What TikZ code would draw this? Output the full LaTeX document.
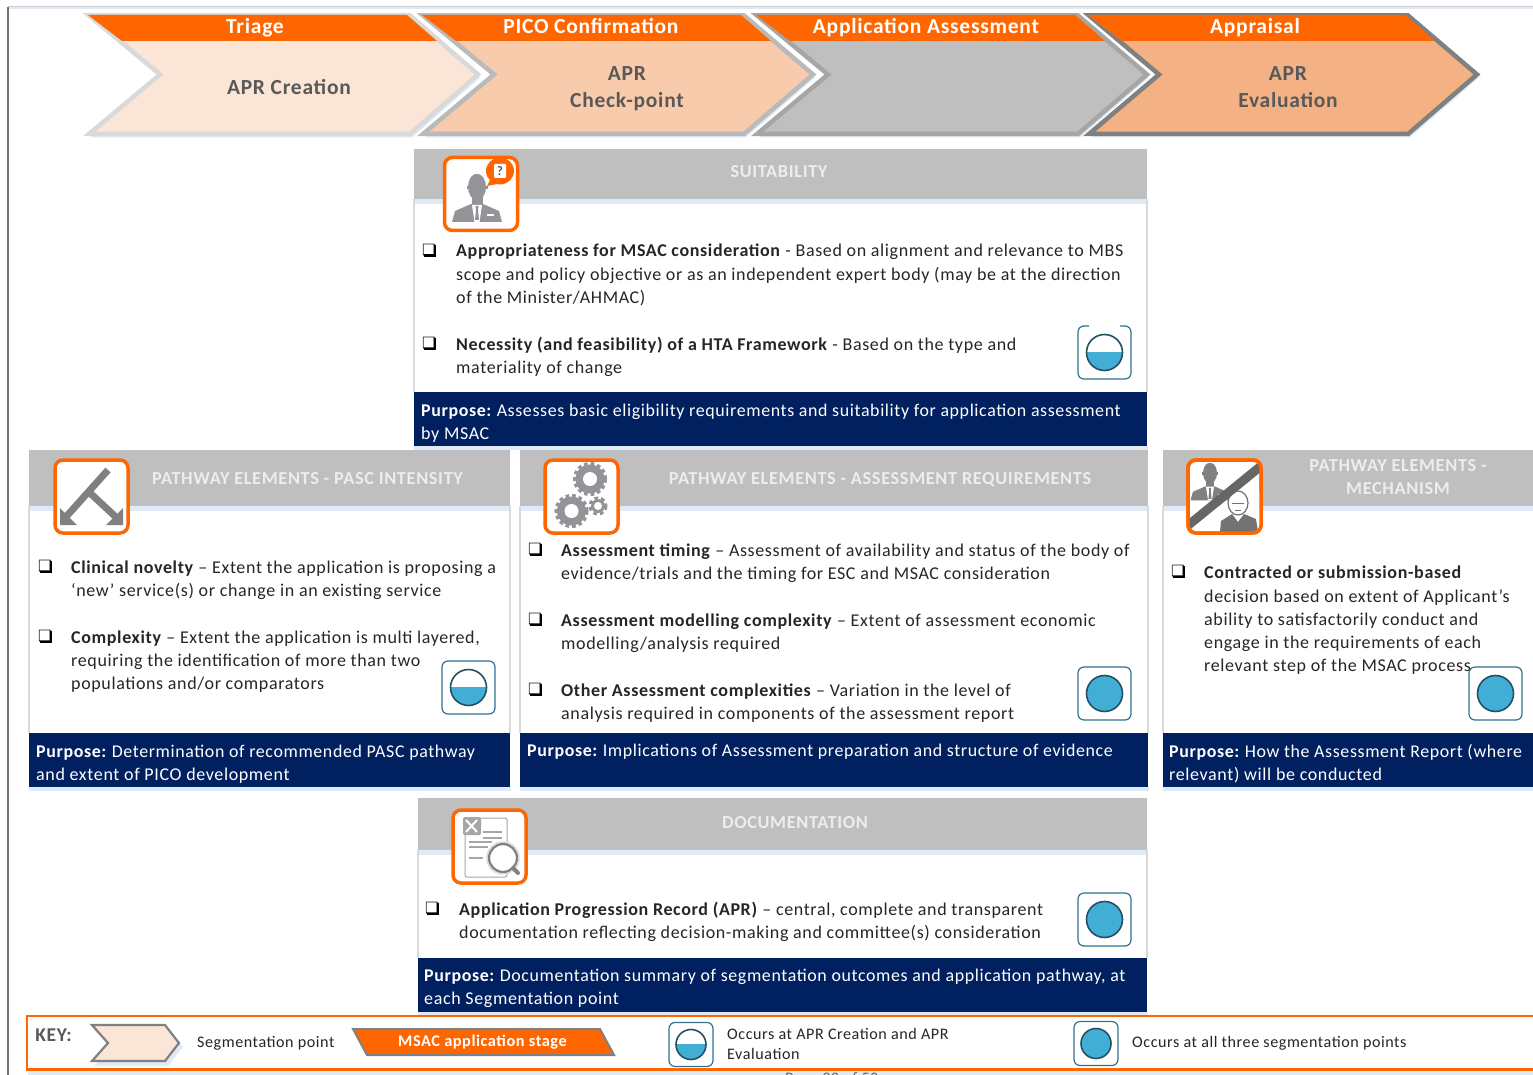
\documentclass[tikz,border=0pt]{standalone}
\usepackage{fontspec}
\setmainfont[LetterSpace=3.5]{Carlito}
\newfontfamily\bulfont{DejaVu Sans}
\usetikzlibrary{calc}
\definecolor{orng}{HTML}{FF6600}
\definecolor{navy}{HTML}{002060}
\definecolor{hdr}{HTML}{BFBFBF}
\definecolor{shd}{HTML}{DEEAF6}
\definecolor{edge}{HTML}{D9D9D9}
\definecolor{teal}{HTML}{31738F}
\definecolor{wat}{HTML}{42AED6}
\definecolor{ico}{HTML}{929497}
\definecolor{txt}{HTML}{262626}
\definecolor{chvA}{HTML}{FBE5D6}
\definecolor{chvB}{HTML}{F8CBAD}
\definecolor{chvD}{HTML}{F4B183}
\newcounter{tn}
\newcommand{\tl}[4][txt]{\stepcounter{tn}\node[lbl,text=#1] (t\thetn) at (#2,#3+6) {#4};}
\newcommand{\ctr}[4][hdrtext]{\stepcounter{tn}\node[clbl,text=#1] (t\thetn) at (#2,#3+6) {#4};}
\newcommand{\stg}[4][white]{\stepcounter{tn}\node[clbl,text=#1,stagefont] (t\thetn) at (#2,#3+7.5) {#4};}
\newcommand{\bul}[2]{\stepcounter{tn}\node[bullet] (t\thetn) at (#1,#2) {❑};
  \draw[black,line width=2.2] (#1-5,#2+5.6) -- (#1+5.6,#2+5.6) -- (#1+5.6,#2-5);}
\newcommand{\pur}[3]{\stepcounter{tn}\node[lbl,text=white,font=\fontsize{17.9}{20}\selectfont] (t\thetn) at (#1,#2+6) {\textbf{Purpose:}\hspace{-1.5pt} #3};}
\newcommand{\keyt}[3]{\stepcounter{tn}\node[lbl,text=txt,keytext] (t\thetn) at (#1,#2) {#3};}
% panel: x0 x1 top headerbottom navytop navybottom
\newcommand{\panel}[6]{
  \fill[shd] (#1,#6) rectangle (#2+1,#6+4);
  \draw[edge,line width=1.5] (#1,#4) -- (#1,#5) (#2,#4) -- (#2,#5);
  \fill[shd] (#1+1,#4) rectangle (#2-1,#4+5);
  \fill[hdr] (#1,#3) rectangle (#2,#4);
  \fill[navy] (#1,#5) rectangle (#2,#6);
}
% chevron: x0 topright tip notch fill stroke
\newcommand{\chev}[6]{
  \fill[shd] (#1+2,18.5) -- (#2+2,18.5) -- (#3+2,77.5) -- (#2+2,137.5) -- (#1+2,137.5) -- (#4+2,77.5) -- cycle;
  \draw[line width=4.5,draw=#6,fill=#5,miter limit=10] (#1,15.5) -- (#2,15.5) -- (#3,74.5) -- (#2,134) -- (#1,134) -- (#4,74.5) -- cycle;
  \fill[orng] (#1-1,15) -- (#2-3,15) -- (#2+27,41) -- (#1+33,41) -- cycle;
}
\newcommand{\iconbox}[2]{\draw[orng,line width=3.5,rounded corners=8,fill=white] (#1,#2) rectangle (#1+73,#2+73);}
\newcommand{\statbox}[3]{\draw[teal,line width=1.2,rounded corners=6,fill=white] (#1-#3,#2-#3) rectangle (#1+#3,#2+#3);}
\newcommand{\halfc}[4]{\statbox{#1}{#2}{#3}
  \begin{scope}\clip (#1-#4,#2) rectangle (#1+#4,#2+#4);\fill[wat] (#1,#2) circle (#4);\end{scope}
  \draw[teal!70!black,line width=1.6] (#1,#2) circle (#4);}
\newcommand{\fullc}[4]{\statbox{#1}{#2}{#3}
  \fill[wat] (#1,#2) circle (#4); \draw[teal!70!black,line width=1.6] (#1,#2) circle (#4);}
\newcommand{\gear}[4]{% cx cy R r
  \draw[ico,line width=3.5,dash pattern=on 3.6 off 3] (#1,#2) circle (#3-1.7);
  \fill[ico] (#1,#2) circle (#3-2.5);
  \fill[white] (#1,#2) circle (#4);}
\newcommand{\person}[4]{% cx, top y, scale, colour
  \begin{scope}[shift={(#1,#2)},scale=#3]
   \fill[#4] (0,13) ellipse (9 and 13);
   \fill[#4] (0,8) ellipse (7.5 and 8);
   \fill[#4] (-10.5,12) rectangle (10.5,15);
   \fill[#4] (-5.5,20) rectangle (5.5,30);
   \fill[#4] (-25,48) -- (-22,37) -- (-6,30) -- (6,30) -- (22,37) -- (25,48) -- cycle;
   \fill[white] (-5,31) -- (5,31) -- (2.5,48) -- (-2.5,48) -- cycle;
   \fill[#4] (-1.5,32) -- (1.5,32) -- (1,36) -- (2,46) -- (-2,46) -- (-1,36) -- cycle;
   \fill[white] (10,40) rectangle (17,42.5);
  \end{scope}}
\tikzset{
  x=1pt,y=-1pt,
  lbl/.style={anchor=base west,inner sep=0pt,font=\fontsize{18}{20}\selectfont},
  clbl/.style={anchor=base,inner sep=0pt,align=center,font=\fontsize{18.3}{20}\selectfont\bfseries},
  stagefont/.style={font=\fontsize{21.5}{24}\selectfont\bfseries},
  bullet/.style={anchor=center,inner sep=0pt,text=black,font=\bulfont\bfseries\fontsize{15.5}{18}\selectfont},
  keytext/.style={font=\fontsize{16.1}{18}\selectfont}
}
\colorlet{hdrtext}{white!93!black}
\begin{document}
\begin{tikzpicture}
\useasboundingbox (0,0) rectangle (1533,1075);
\clip (0,0) rectangle (1533,1075);
\fill[white] (0,0) rectangle (1533,1075);
% page edge
\draw[shd,line width=2] (9,8.5) -- (1533,8.5);
\draw[black!55,line width=1.3] (8,7) -- (8,1075);
\draw[black!20,line width=1] (8,7) -- (1533,7);
% chevrons
\chev{1089}{1408}{1477}{1159}{chvD}{black!50}
\chev{757}{1078}{1147}{828}{hdr}{black!35}
\chev{423}{744}{813}{494}{chvB}{black!27}
\chev{89}{410}{478}{160}{chvA}{edge}
\stg{255}{26}{Triage}
\stg{591}{26}{PICO Confirmation}
\stg{926}{26}{Application Assessment}
\stg{1255}{26}{Appraisal}
\stg[black!65]{289}{87}{APR Creation}
\stg[black!65]{627}{73}{APR}
\stg[black!65]{627}{100}{Check-point}
\stg[black!65]{1288}{73}{APR}
\stg[black!65]{1288}{100}{Evaluation}
% panels
\panel{414}{1147}{149}{199}{392}{446}
\panel{29}{510}{450}{506}{733}{787}
\panel{520}{1148}{450}{506}{733}{787}
\panel{1163}{1540}{450}{506}{733}{787}
\panel{418}{1147}{798}{850}{958}{1012}
\ctr{779}{172}{SUITABILITY}
\ctr{307.5}{478}{PATHWAY ELEMENTS - PASC INTENSITY}
\ctr{880}{478}{PATHWAY ELEMENTS - ASSESSMENT REQUIREMENTS}
\ctr{1398}{465}{PATHWAY ELEMENTS -}
\ctr{1398}{488}{MECHANISM}
\ctr{795}{822}{DOCUMENTATION}
% icon: suitability
\iconbox{444.5}{157.5}
\person{477}{174}{1}{ico}
\fill[orng] (500,171) ellipse (14 and 13.5);
\fill[orng] (490,180) -- (497,184) -- (487,186) -- cycle;
\fill[white,rounded corners=1] (494,164) rectangle (506,178);
\stepcounter{tn}\node[clbl,text=black!65,font=\fontsize{13}{14}\selectfont\bfseries] (t\thetn) at (500,175.5) {?};
% icon: pasc
\iconbox{55}{460}
\draw[black!50,line width=7] (108,470) -- (65,518);
\draw[black!50,line width=7] (90,493) -- (118,519);
\fill[black!50] (60,525) -- (60,508) -- (77,525) -- cycle;
\fill[black!50] (123,525) -- (123,508) -- (106,525) -- cycle;
% icon: gears
\iconbox{545}{460}
\gear{590}{479}{17}{7}
\gear{571.5}{511}{17}{7}
\gear{598}{506}{9.5}{4}
% icon: mechanism
\iconbox{1188}{460}
\begin{scope}
 \clip[rounded corners=8] (1188,460) rectangle (1261,533);
 \person{1210}{463}{0.78}{black!50}
 \fill[white] (1232,492) rectangle (1263,534);
 \fill[black!55] (1220,532) -- (1221,521) -- (1232,514) -- (1238,522) -- (1244,514) -- (1256,519) -- (1258,532) -- cycle;
 \draw[black!55,line width=1.2,fill=white] (1238,503) ellipse (10 and 12);
 \draw[black!55,line width=1] (1232,503) -- (1244,503) (1235,510) -- (1241,510);
 \draw[black!60,line width=9] (1261,466) -- (1186,527);
\end{scope}
\draw[orng,line width=3.5,rounded corners=8] (1188,460) rectangle (1261,533);
% icon: documentation
\iconbox{453}{810}
\draw[black!35,line width=1,rounded corners=2] (466,818) -- (507,818) -- (507,877) -- (465,877) -- (465,830);
\draw[black!35,line width=1.6] (483,832) -- (502,832) (483,838) -- (502,838) (469,842) -- (492,842) (469,847) -- (488,847) (469,858) -- (483,858);
\fill[black!35,rounded corners=1.5] (463,817) rectangle (481,835);
\draw[white,line width=2] (466,820) -- (477,832) (477,820) -- (466,832);
\draw[black!50,line width=2.3,fill=white] (503,858) circle (14);
\draw[black!15,line width=1.4] (503,858) circle (16);
\draw[black!50,line width=4,line cap=round] (513,868) -- (518,873);
% suitability text
\bul{429}{250}
\tl{456}{251}{\textbf{Appropriateness for MSAC consideration} - Based on alignment and relevance to MBS}
\tl{456}{274}{scope and policy objective or as an independent expert body (may be at the direction}
\tl{456}{297}{of the Minister/AHMAC)}
\bul{429}{343}
\tl{456}{344}{\textbf{Necessity (and feasibility) of a HTA Framework} - Based on the type and}
\tl{456}{367}{materiality of change}
\halfc{1104.5}{352.5}{26.5}{18}
\draw[white,line width=2] (1089,326) -- (1120,326);
\pur{421}{410}{Assesses basic eligibility requirements and suitability for application assessment}
\tl[white]{421}{433}{by MSAC}
% pasc text
\bul{45}{566}
\tl{71}{567}{\textbf{Clinical novelty} – Extent the application is proposing a}
\tl{71}{590}{‘new’ service(s) or change in an existing service}
\bul{45}{636}
\tl{71}{637}{\textbf{Complexity} – Extent the application is multi layered,}
\tl{71}{660}{requiring the identification of more than two}
\tl{71}{683}{populations and/or comparators}
\halfc{468.5}{687.5}{26.5}{18}
\pur{36}{751}{Determination of recommended PASC pathway}
\tl[white]{36}{774}{and extent of PICO development}
% assessment text
\bul{535}{549}
\tl{561}{550}{\textbf{Assessment timing} – Assessment of availability and status of the body of}
\tl{561}{573}{evidence/trials and the timing for ESC and MSAC consideration}
\bul{535}{619}
\tl{561}{620}{\textbf{Assessment modelling complexity} – Extent of assessment economic}
\tl{561}{643}{modelling/analysis required}
\bul{535}{689}
\tl{561}{690}{\textbf{Other Assessment complexities} – Variation in the level of}
\tl{561}{713}{analysis required in components of the assessment report}
\fullc{1104.5}{693.5}{26.5}{18}
\pur{527}{750}{Implications of Assessment preparation and structure of evidence}
% mechanism text
\bul{1178}{571}
\tl{1204}{572}{\textbf{Contracted or submission-based}}
\tl{1204}{596}{decision based on extent of Applicant’s}
\tl{1204}{619}{ability to satisfactorily conduct and}
\tl{1204}{642}{engage in the requirements of each}
\tl{1204}{665}{relevant step of the MSAC process}
\fullc{1495.5}{693.5}{26.5}{18}
\pur{1169}{751}{How the Assessment Report (where}
\tl[white]{1169}{774}{relevant) will be conducted}
% documentation text
\bul{432}{908}
\tl{459}{909}{\textbf{Application Progression Record (APR)} – central, complete and transparent}
\tl{459}{932}{documentation reflecting decision-making and committee(s) consideration}
\fullc{1104.5}{919.5}{26.5}{18}
\pur{424}{975}{Documentation summary of segmentation outcomes and application pathway, at}
\tl[white]{424}{998}{each Segmentation point}
% key
\fill[shd] (28,1071) rectangle (1533,1075);
\draw[orng,line width=2.5] (1540,1016) -- (27,1016) -- (27,1069.5) -- (1540,1069.5);
\stepcounter{tn}\node[clbl,text=black!65,font=\fontsize{19.5}{20}\selectfont\bfseries] (t\thetn) at (53.5,1041.5) {KEY:};
\fill[shd] (94,1030) -- (168,1030) -- (183,1047) -- (168,1066) -- (94,1066) -- (112,1047) -- cycle;
\draw[black!50,line width=2.2,fill=chvA] (92,1025) -- (165,1025) -- (179,1043) -- (165,1061) -- (92,1061) -- (108,1043) -- cycle;
\keyt{197}{1047}{Segmentation point}
\draw[black!50,line width=2,fill=orng] (353,1029) -- (600,1029) -- (614,1055) -- (367,1055) -- cycle;
\stepcounter{tn}\node[clbl,text=white,font=\fontsize{16.3}{18}\selectfont\bfseries] (t\thetn) at (482.5,1046.5) {MSAC application stage};
\halfc{691}{1044.5}{22}{15}
\keyt{727}{1039}{Occurs at APR Creation and APR}
\keyt{727}{1059}{Evaluation}
\fullc{1096}{1043.5}{22}{15}
\keyt{1132}{1047}{Occurs at all three segmentation points}
\stepcounter{tn}\node[lbl,text=black!60,keytext] (t\thetn) at (785,1083.5) {Page 33 of 52};
\end{tikzpicture}
\end{document}
